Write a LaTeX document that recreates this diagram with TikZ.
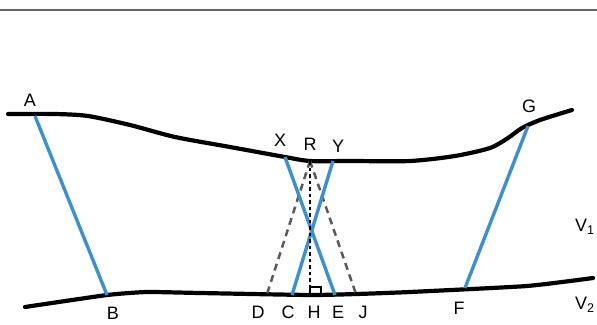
\documentclass[tikz,border=0pt]{standalone}
\usepackage{fontspec}
\setmainfont{Liberation Sans}
\definecolor{rayblue}{HTML}{3F8FCB}
\definecolor{dashgray}{HTML}{5A5A5A}
\begin{document}
\begin{tikzpicture}[x=1pt,y=-1pt,
  layer/.style={line width=4.2pt,black,line cap=round,line join=round},
  ray/.style={line width=3.4pt,rayblue},
  dray/.style={line width=2.5pt,dashgray,dash pattern=on 7pt off 5pt},
  vert/.style={line width=2.6pt,black,dash pattern=on 3.5pt off 3pt},
  lbl/.style={font=\fontsize{18}{21}\selectfont,inner sep=0pt}]
\useasboundingbox (0,0) rectangle (597,324);
\clip (0,0) rectangle (597,324);
% top rule
\draw[line width=1.6pt,gray!80!black] (0,10) -- (597,10);
% layer boundaries
\draw[layer] plot[smooth,tension=0.45] coordinates {(8,114) (55,114) (88,116) (130,125) (175,137) (230,147) (285,157) (310,161) (350,161) (410,161) (455,156) (490,148) (508,138) (522,128) (540,120) (572,110)};
\draw[layer] plot[smooth,tension=0.3] coordinates {(25,307) (107,295) (147,292) (200,293) (310,295) (357,294) (410,292) (527,286) (593,278)};
% points
\coordinate (A) at (35,116);
\coordinate (B) at (107,295);
\coordinate (X) at (285,157);
\coordinate (Y) at (333,161);
\coordinate (R) at (310,161);
\coordinate (C) at (292,295);
\coordinate (E) at (335,295);
\coordinate (D) at (267,294);
\coordinate (J) at (356,294);
\coordinate (H) at (310,295);
\coordinate (G) at (528,126);
\coordinate (F) at (465,288);
% rays
\draw[dray] (R) -- (D);
\draw[dray] (R) -- (J);
\draw[ray] (A) -- (B);
\draw[ray] (X) -- (E);
\draw[ray] (Y) -- (C);
\draw[ray] (G) -- (F);
\draw[vert] (R) -- (H);
\draw[line width=2.2pt,black] (H) ++(0,-1) |- ++(11,-7) -- ++(0,7);
% labels
\node[lbl] (lA) at (30,100) {A};
\node[lbl] (lB) at (113,313) {B};
\node[lbl] (lX) at (280,140) {X};
\node[lbl] (lR) at (310,144) {R};
\node[lbl] (lY) at (338,146) {Y};
\node[lbl] (lD) at (258,312) {D};
\node[lbl] (lC) at (288,312) {C};
\node[lbl] (lH) at (314,312) {H};
\node[lbl] (lE) at (338,312) {E};
\node[lbl] (lJ) at (363,312) {J};
\node[lbl] (lF) at (459,308) {F};
\node[lbl] (lG) at (529,106) {G};
\node[lbl,anchor=west] (lV1) at (575,227) {V\textsubscript{1}};
\node[lbl,anchor=west] (lV2) at (575,305) {V\textsubscript{2}};
\end{tikzpicture}
\end{document}
